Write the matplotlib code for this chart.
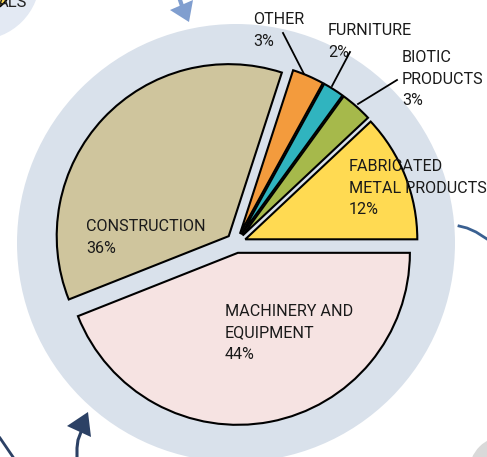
import matplotlib
matplotlib.use('Agg')
import matplotlib.pyplot as plt
import matplotlib.patches as mpatches

# slice values, counterclockwise from 3 o'clock
sectors = ['FABRICATED\nMETAL PRODUCTS', 'BIOTIC\nPRODUCTS', 'FURNITURE', 'OTHER',
           'CONSTRUCTION', 'MACHINERY AND\nEQUIPMENT']
shares = [12, 3, 2, 3, 36, 44]
colours = ['#FFDA52', '#A6B94B', '#30B4BF', '#F39B3D', '#CFC59D', '#F6E3E2']

W, H = 487, 457
FONT = ['Liberation Sans Narrow', 'Roboto', 'DejaVu Sans']


def py(y):
    # pixel row (from top) -> data y
    return H - y


fig = plt.figure(figsize=(W / 100, H / 100), dpi=100)
ax = fig.add_axes([0, 0, 1, 1])

cx, cy = 236, py(243)

# decorations around the main circle
ax.add_patch(mpatches.Circle((-22, py(-22)), 62, color='#E3E9F3', lw=0, zorder=0))
ax.add_patch(mpatches.Circle((-22, py(-22)), 36, facecolor='#FFDA52', edgecolor='black', lw=1.2, zorder=1))
ax.text(-2, py(-5), 'ALS', fontsize=12, family=FONT, color='#222222', va='top', ha='left', zorder=2)
ax.add_patch(mpatches.Polygon([(170, py(10)), (193, py(0)), (189, py(22))], closed=True,
                              color='#809ECF', lw=0, zorder=1))
ax.plot([180, 182], [py(0), py(6)], color='#809ECF', lw=3, zorder=1)
ax.plot([459, 467, 476, 487], [py(226), py(228), py(232), py(239)], color='#3A6091', lw=2)
ax.add_patch(mpatches.Polygon([(67, py(426)), (88, py(412)), (91, py(437))], closed=True,
                              color='#2C4165', lw=0, zorder=1))
ax.plot([81, 78, 77, 77], [py(432), py(440), py(448), py(457)], color='#2C4165', lw=2.2)
ax.plot([0, 13], [py(438), py(457)], color='#2C4165', lw=2)
ax.add_patch(mpatches.Circle((505, py(472)), 36, color='#D9D9D9', lw=0, zorder=0))

# light background disc
ax.add_patch(mpatches.Circle((cx, cy), 219, color='#D9E1EB', lw=0, zorder=0))

ax.pie(shares, colors=colours, startangle=0, counterclock=True, radius=172,
       center=(cx, cy), explode=[10] * len(shares), frame=True,
       wedgeprops={'edgecolor': 'black', 'linewidth': 1.5})
ax.set_xlim(0, W)
ax.set_ylim(0, H)
ax.set_aspect('equal')
ax.axis('off')

tk = dict(fontsize=11.6, family=FONT, color='#1A1A1A', va='top', ha='left', linespacing=1.55, zorder=5)
ax.text(86, py(219), sectors[4] + '\n%d%%' % shares[4], **tk)
ax.text(225, py(304), sectors[5] + '\n%d%%' % shares[5], **tk)
ax.text(349, py(159), sectors[0] + '\n%d%%' % shares[0], **tk)
ax.text(253, py(12), sectors[3] + '\n%d%%' % shares[3], **tk)
ax.text(328, py(23), sectors[2] + '\n%d%%' % shares[2], **tk)
ax.text(402, py(50), sectors[1] + '\n%d%%' % shares[1], **tk)

# leader lines for the thin slices
ax.plot([283, 304], [py(33), py(74)], color='black', lw=1.3, zorder=5)
ax.plot([350, 332], [py(52), py(86)], color='black', lw=1.3, zorder=5)
ax.plot([397, 358], [py(80), py(104)], color='black', lw=1.3, zorder=5)

fig.savefig('out.png', dpi=100)
